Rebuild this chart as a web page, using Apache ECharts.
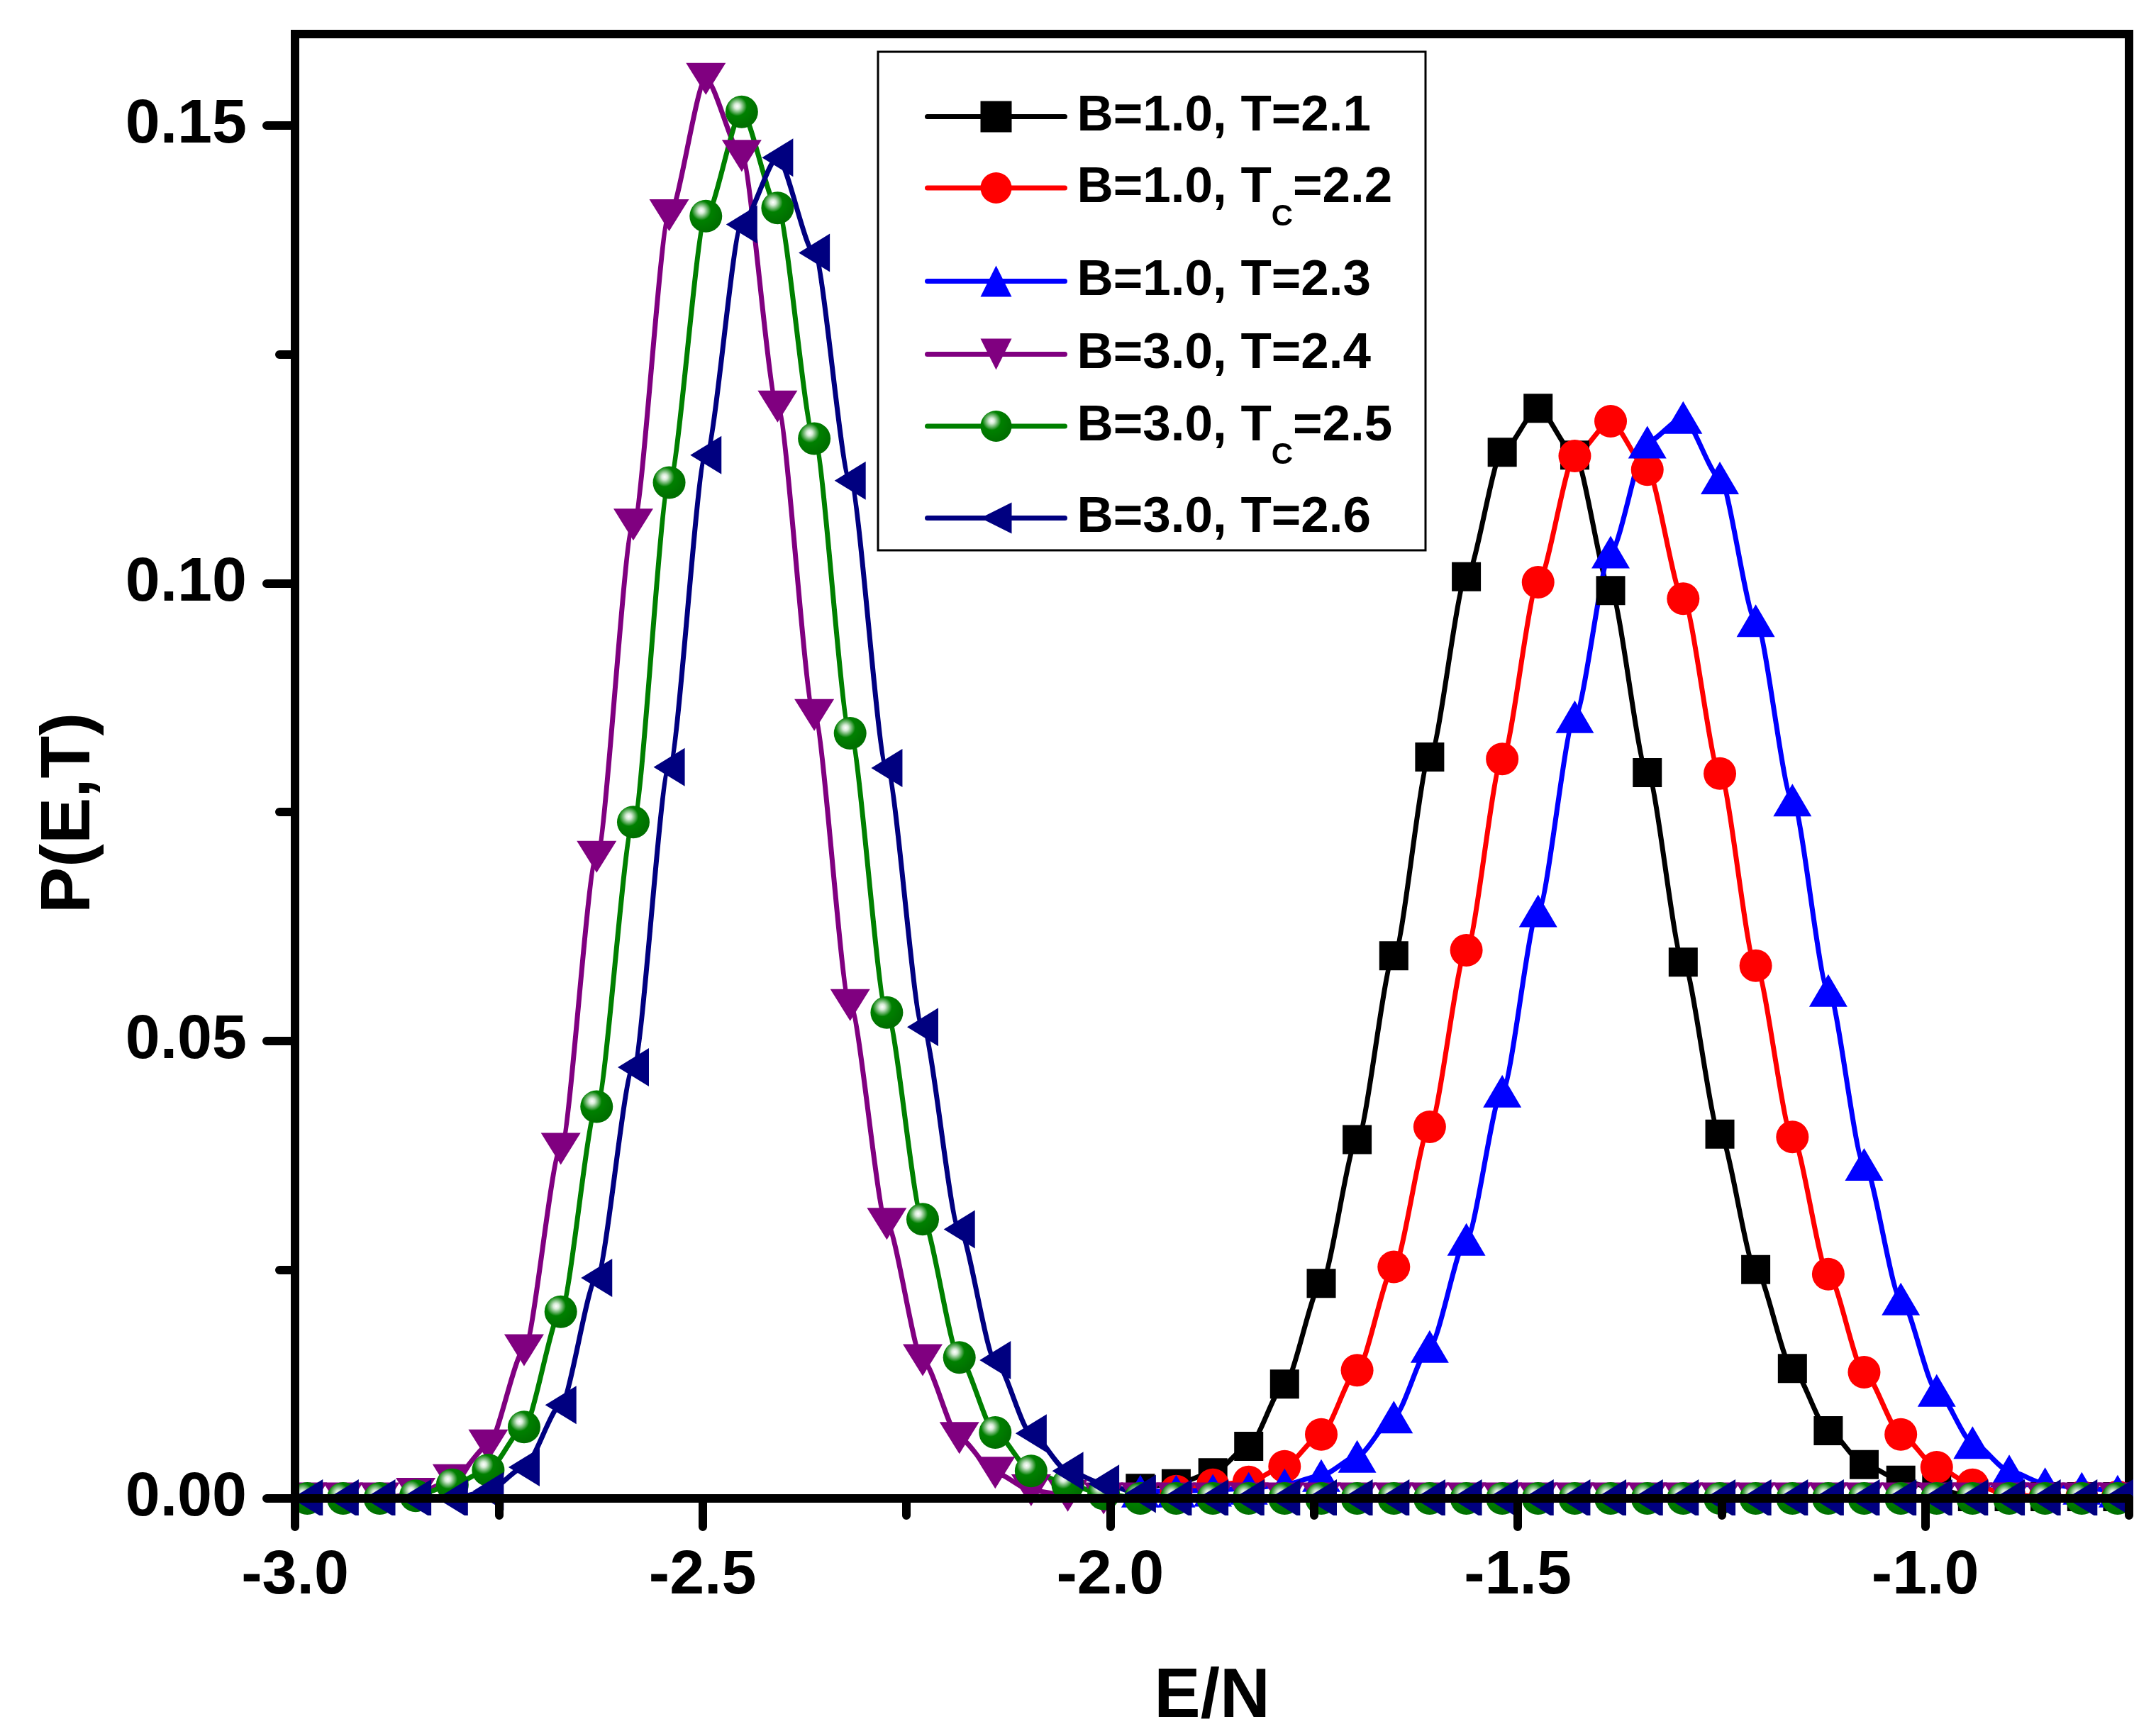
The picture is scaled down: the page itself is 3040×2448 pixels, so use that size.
<!DOCTYPE html>
<html>
<head>
<meta charset="utf-8">
<title>P(E,T)</title>
<script src="https://cdn.jsdelivr.net/npm/echarts@6/dist/echarts.min.js"></script>
<style>
html,body{margin:0;padding:0;background:#fff;}
#main{width:3040px;height:2448px;}
</style>
</head>
<body>
<div id="main"></div>
<script>
// E/N grid
var energy = [-2.985,-2.941,-2.896,-2.852,-2.807,-2.763,-2.719,-2.674,-2.630,-2.585,
	-2.541,-2.496,-2.452,-2.408,-2.363,-2.319,-2.274,-2.230,-2.185,-2.141,
	-2.097,-2.052,-2.008,-1.963,-1.919,-1.874,-1.830,-1.786,-1.741,-1.697,
	-1.652,-1.608,-1.563,-1.519,-1.475,-1.430,-1.386,-1.341,-1.297,-1.252,
	-1.208,-1.163,-1.119,-1.075,-1.030,-0.986,-0.942,-0.897,-0.853,-0.808,-0.764]

// null = no point at that energy
var pB1T21 = [null,null,null,null,null,null,null,null,null,null,
	null,null,null,null,null,null,null,null,null,null,
	null,null,null,0.0011,0.0016,0.0028,0.0057,0.0125,0.0235,0.0392,
	0.0593,0.0810,0.1007,0.1143,0.1191,0.1140,0.0992,0.0793,0.0586,0.0398,
	0.0250,0.0142,0.0074,0.0037,0.0020,0.0010,0.0002,0.0002,0.0002,0.0002,0.0002]
var pB1T22 = [null,null,null,null,null,null,null,null,null,null,
	null,null,null,null,null,null,null,null,null,null,
	null,null,null,null,0.0008,0.0015,0.0018,0.0035,0.0070,0.0140,
	0.0253,0.0406,0.0599,0.0808,0.1001,0.1139,0.1177,0.1124,0.0983,0.0792,
	0.0582,0.0395,0.0245,0.0138,0.0070,0.0034,0.0015,0.0004,0.0002,0.0002,0.0002]
var pB1T23 = [null,null,null,null,null,null,null,null,null,null,
	null,null,null,null,null,null,null,null,null,null,
	null,null,null,0.0008,0.0008,0.0009,0.0011,0.0015,0.0025,0.0046,
	0.0089,0.0166,0.0283,0.0445,0.0642,0.0854,0.1034,0.1154,0.1181,0.1115,
	0.0959,0.0763,0.0555,0.0365,0.0218,0.0118,0.0061,0.0030,0.0016,0.0011,0.0008]
var pB3T24 = [0,0,0,0.0005,0.0020,0.0058,0.0162,0.0382,0.0701,0.1064,
	0.1402,0.1551,0.1467,0.1193,0.0856,0.0539,0.0300,0.0151,0.0066,0.0028,
	0.0009,0.0003,0,0,0,0,0,0,0,0,
	0,0,0,0,0,0,0,0,0,0,
	0,0,0,0,0,0,0,0,0,0,0]
var pB3T25 = [0,0,0,0.0003,0.0015,0.0031,0.0078,0.0204,0.0428,0.0739,
	0.1110,0.1401,0.1515,0.1410,0.1158,0.0836,0.0531,0.0305,0.0154,0.0072,
	0.0030,0.0015,0.0005,0,0,0,0,0,0,0,
	0,0,0,0,0,0,0,0,0,0,
	0,0,0,0,0,0,0,0,0,0,0]
var pB3T26 = [0,0,0,0,0,0.0008,0.0034,0.0102,0.0241,0.0471,
	0.0799,0.1140,0.1392,0.1465,0.1361,0.1112,0.0798,0.0515,0.0294,0.0151,
	0.0071,0.0030,0.0016,0.0005,0,0,0,0,0,0,
	0,0,0,0,0,0,0,0,0,0,
	0,0,0,0,0,0,0,0,0,0,0]

var names = ['B=1.0, T=2.1','B=1.0, Tc=2.2','B=1.0, T=2.3','B=3.0, T=2.4','B=3.0, Tc=2.5','B=3.0, T=2.6']
var xMajor = [-3.0,-2.5,-2.0,-1.5,-1.0]
var xMinor = [-2.75,-2.25,-1.75,-1.25,-0.75]
var yMajor = [0,0.05,0.10,0.15]
var yMinor = [0.025,0.075,0.125]

var FONT = 'Liberation Sans'

function pairs(vals){
	var out = []
	for(var i=0;i<energy.length;i++){
		if(vals[i]===null) continue
		out.push([energy[i],vals[i]])
	}
	return out
}

function legendText(name){   // Tc -> T with subscript C
	if(name.indexOf('Tc')>-1){
		var p = name.split('Tc')
		return '{f|'+p[0]+'T}{s|C}{a|'+p[1]+'}'
	}
	return '{f|'+name+'}'
}

var ball = {
	type:'radial', x:0.36, y:0.33, r:0.62,
	colorStops:[
		{offset:0, color:'#ffffff'},
		{offset:0.14, color:'#d8ecd8'},
		{offset:0.3, color:'#72b872'},
		{offset:0.48, color:'#008000'},
		{offset:1, color:'#007000'}
	]
}

function mkSeries(name,vals,color,symbol,size,rotate,fill){
	return {
		name:name,
		type:'line',
		data:pairs(vals),
		smooth:0.25,
		smoothMonotone:'x',
		symbol:symbol,
		symbolSize:size,
		symbolRotate:rotate,
		showAllSymbol:true,
		lineStyle:{color:color,width:7},
		itemStyle:{color:fill||color},
		emphasis:{disabled:true},
		animation:false
	}
}

var series = [
	mkSeries(names[0],pB1T21,'#000000','rect',41,0),
	mkSeries(names[1],pB1T22,'#ff0000','circle',46,0),
	mkSeries(names[2],pB1T23,'#0000ff','triangle',[54,46],0),
	mkSeries(names[3],pB3T24,'#800080','triangle',[56,45],180),
	mkSeries(names[4],pB3T25,'#008000','circle',46,0,ball),
	mkSeries(names[5],pB3T26,'#000080','triangle',[54,44],90)
]

// one legend per row, the rows with a subscript sit lower
var rowCenter = [161,265,393,496,601,727]
var legends = []
for(var i=0;i<names.length;i++){
	var tall = names[i].indexOf('Tc')>-1
	legends.push({
		data:[names[i]],
		left:1304,
		top:rowCenter[i]-(tall?62:32),
		padding:0,
		itemWidth:194,
		itemHeight:55,
		itemGap:0,
		selectedMode:false,
		formatter:legendText,
		lineStyle:{width:7,cap:'round'},
		textStyle:{
			fontFamily:FONT,
			rich:{
				f:{fontFamily:FONT,fontWeight:'bold',fontSize:71,lineHeight:80,color:'#000',padding:[0,0,0,12]},
				a:{fontFamily:FONT,fontWeight:'bold',fontSize:71,lineHeight:80,color:'#000'},
				s:{fontFamily:FONT,fontWeight:'bold',fontSize:42,lineHeight:42,padding:[82,0,0,0],color:'#000'}
			}
		}
	})
}

var option = {
	backgroundColor:'#ffffff',
	animation:false,
	grid:{left:416,right:38,top:48,bottom:317,show:true,borderColor:'#000',borderWidth:12,backgroundColor:'transparent'},
	legend:legends,
	xAxis:[{
		type:'value', min:-3, max:-0.75, z:10,
		name:'E/N', nameLocation:'middle', nameGap:232,
		nameTextStyle:{fontFamily:FONT,fontWeight:'bold',fontSize:98,color:'#000'},
		axisLine:{lineStyle:{color:'#000',width:12}},
		axisTick:{customValues:xMajor,length:40,lineStyle:{color:'#000',width:12,cap:'round'}},
		axisLabel:{customValues:xMajor,margin:66,fontSize:88,fontFamily:FONT,fontWeight:'bold',color:'#000',
			formatter:function(v){return v.toFixed(1)}},
		splitLine:{show:false}
	},{
		type:'value', min:-3, max:-0.75, z:10, position:'bottom',
		axisLine:{show:false},
		axisTick:{customValues:xMinor,length:24,lineStyle:{color:'#000',width:12,cap:'round'}},
		axisLabel:{show:false},
		splitLine:{show:false}
	}],
	yAxis:[{
		type:'value', min:0, max:0.16, z:10,
		name:'P(E,T)', nameLocation:'middle', nameGap:268,
		nameTextStyle:{fontFamily:FONT,fontWeight:'bold',fontSize:98,color:'#000',padding:[0,132,0,0]},
		axisLine:{lineStyle:{color:'#000',width:12}},
		axisTick:{customValues:yMajor,length:40,lineStyle:{color:'#000',width:12,cap:'round'}},
		axisLabel:{customValues:yMajor,margin:68,fontSize:88,fontFamily:FONT,fontWeight:'bold',color:'#000',
			formatter:function(v){return v.toFixed(2)}},
		splitLine:{show:false}
	},{
		type:'value', min:0, max:0.16, z:10, position:'left',
		axisLine:{show:false},
		axisTick:{customValues:yMinor,length:22,lineStyle:{color:'#000',width:12,cap:'round'}},
		axisLabel:{show:false},
		splitLine:{show:false}
	}],
	graphic:[
		// legend frame
		{type:'rect',shape:{x:1238,y:73,width:772,height:703},style:{fill:null,stroke:'#000',lineWidth:3},z:5},
		// hide the parts of markers that fall outside the frame
		{type:'rect',shape:{x:300,y:2137,width:2740,height:70},style:{fill:'#fff'},z:5},
		{type:'rect',shape:{x:330,y:1980,width:80,height:160},style:{fill:'#fff'},z:5},
		{type:'rect',shape:{x:3008,y:1980,width:32,height:160},style:{fill:'#fff'},z:5}
	],
	series:series
}

var myChart = echarts.init(document.getElementById('main'))
myChart.setOption(option)
</script>
</body>
</html>
